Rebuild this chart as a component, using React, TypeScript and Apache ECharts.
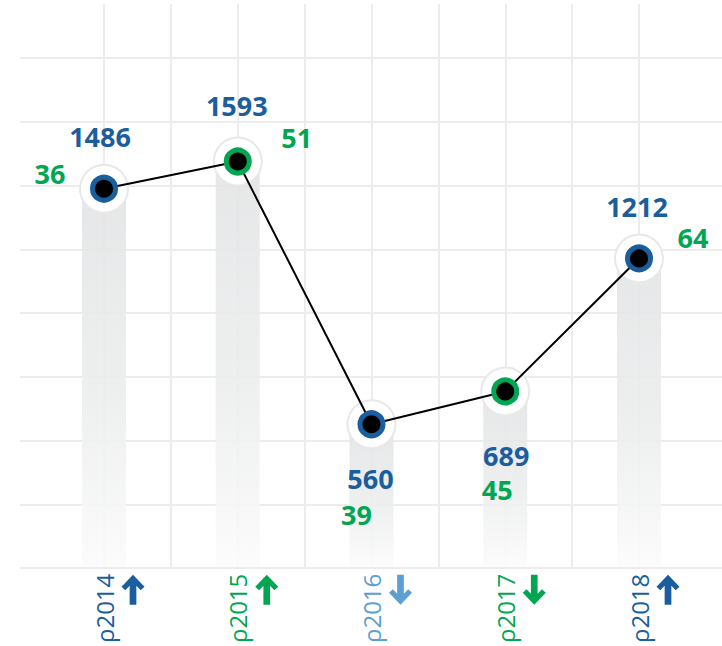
import React, { useEffect, useRef } from 'react';
import * as echarts from 'echarts';

const years = ['ρ2014', 'ρ2015', 'ρ2016', 'ρ2017', 'ρ2018'];
const mainValues = [1486, 1593, 560, 689, 1212];
const secondaryValues = [36, 51, 39, 45, 64];
const trend = ['up', 'up', 'down', 'down', 'up'];
const yMin = 0;
const yMax = 2000;
const yStep = 250;

const BLUE = '#1b5e9e';
const GREEN = '#00a651';
const LIGHT_BLUE = '#5b9fd3';
const yearColors = [BLUE, GREEN, LIGHT_BLUE, GREEN, BLUE];
const ringColors = [BLUE, GREEN, BLUE, GREEN, BLUE];

// label placement relative to each point (layout, not data)
const mainLabelOffsets = [[-4, -52], [-1, -56], [-1, 54], [1, 64], [-2, -52]];
const secLabelOffsets = [[-54, -15], [59, -24], [-15, 90], [-8, 98], [54, -21]];

const ARROW_UP = 'path://M12 0 L24 12 L20 15.5 L15.5 11 L15.5 30 L8.5 30 L8.5 11 L4 15.5 L0 12 Z';
const ARROW_DOWN = 'path://M12 30 L24 18 L20 14.5 L15.5 19 L15.5 0 L8.5 0 L8.5 19 L4 14.5 L0 18 Z';

const FONT = '"Open Sans", "DejaVu Sans", sans-serif';

export default function App() {
  const ref = useRef<HTMLDivElement>(null);
  useEffect(() => {
    if (!ref.current) return;
    const chart = echarts.init(ref.current, null, { renderer: 'svg' });
    const gridColor = '#ececec';
    const option: any = {
      animation: false,
      backgroundColor: '#ffffff',
      grid: [
        { left: 20, right: 0, top: 58, bottom: 78 },
        { left: 104, right: 83, top: 4, bottom: 78 },
        { left: 104, right: 83, top: 58, bottom: 78 },
      ],
      xAxis: [
        { gridIndex: 0, type: 'value', show: false, min: 0, max: 1 },
        {
          gridIndex: 1, type: 'value', min: 0, max: 8, interval: 1,
          axisLabel: { show: false }, axisLine: { show: false }, axisTick: { show: false },
          splitLine: { show: true, lineStyle: { color: gridColor, width: 2 } },
        },
        {
          gridIndex: 2, type: 'category', data: years, boundaryGap: false,
          axisLine: { show: false }, axisTick: { show: false }, splitLine: { show: false },
          axisLabel: {
            rotate: 90, margin: 7, fontSize: 24, fontFamily: FONT, interval: 0,
            padding: [0, 0, 8, 0],
            color: (_v: any, i: number) => yearColors[i],
          },
        },
      ],
      yAxis: [
        {
          gridIndex: 0, type: 'value', min: yMin, max: yMax, interval: yStep,
          axisLabel: { show: false }, axisLine: { show: false }, axisTick: { show: false },
          splitLine: { show: true, lineStyle: { color: gridColor, width: 2 } },
        },
        { gridIndex: 1, type: 'value', show: false },
        {
          gridIndex: 2, type: 'value', min: yMin, max: yMax, interval: yStep,
          axisLabel: { show: false }, axisLine: { show: false }, axisTick: { show: false },
          splitLine: { show: false },
        },
      ],
      series: [
        {
          type: 'bar', xAxisIndex: 2, yAxisIndex: 2, z: 1, barWidth: 44,
          data: mainValues,
          itemStyle: {
            opacity: 0.9,
            color: new echarts.graphic.LinearGradient(0, 0, 0, 1, [
              { offset: 0, color: '#e3e4e5' },
              { offset: 0.55, color: '#eceded' },
              { offset: 1, color: '#fbfbfb' },
            ]),
          },
        },
        {
          type: 'scatter', xAxisIndex: 2, yAxisIndex: 2, z: 2, symbol: 'circle', symbolSize: 48,
          itemStyle: { color: '#ffffff', borderColor: '#e8e8e8', borderWidth: 2, opacity: 1 },
          data: mainValues.map((v, i) => ({
            value: v,
            label: { offset: secLabelOffsets[i] },
          })),
          label: {
            show: true, position: 'inside', color: GREEN, fontSize: 27, fontWeight: 'bold',
            fontFamily: FONT,
            formatter: (p: any) => String(secondaryValues[p.dataIndex]),
          },
        },
        {
          type: 'line', xAxisIndex: 2, yAxisIndex: 2, z: 3, data: mainValues,
          showSymbol: false, lineStyle: { color: '#000000', width: 2 },
        },
        {
          type: 'scatter', xAxisIndex: 2, yAxisIndex: 2, z: 4, symbol: 'circle', symbolSize: 23,
          data: mainValues.map((v, i) => ({
            value: v,
            itemStyle: { borderColor: ringColors[i] },
            label: { offset: mainLabelOffsets[i] },
          })),
          itemStyle: { color: '#000000', borderWidth: 5, opacity: 1 },
          label: {
            show: true, position: 'inside', color: BLUE, fontSize: 27, fontWeight: 'bold',
            fontFamily: FONT,
            formatter: (p: any) => String(p.value),
          },
        },
        {
          type: 'scatter', xAxisIndex: 2, yAxisIndex: 2, z: 5, clip: false,
          symbolSize: [23, 30], symbolOffset: [29, 23],
          data: trend.map((t, i) => ({
            value: yMin,
            symbol: t === 'up' ? ARROW_UP : ARROW_DOWN,
            itemStyle: { color: yearColors[i], opacity: 1 },
          })),
          silent: true,
        },
      ],
    };
    chart.setOption(option);
    return () => chart.dispose();
  }, []);
  return (
    <div
      ref={ref}
      style={{ position: 'fixed', left: 0, top: 0, width: 722, height: 646 }}
    />
  );
}
